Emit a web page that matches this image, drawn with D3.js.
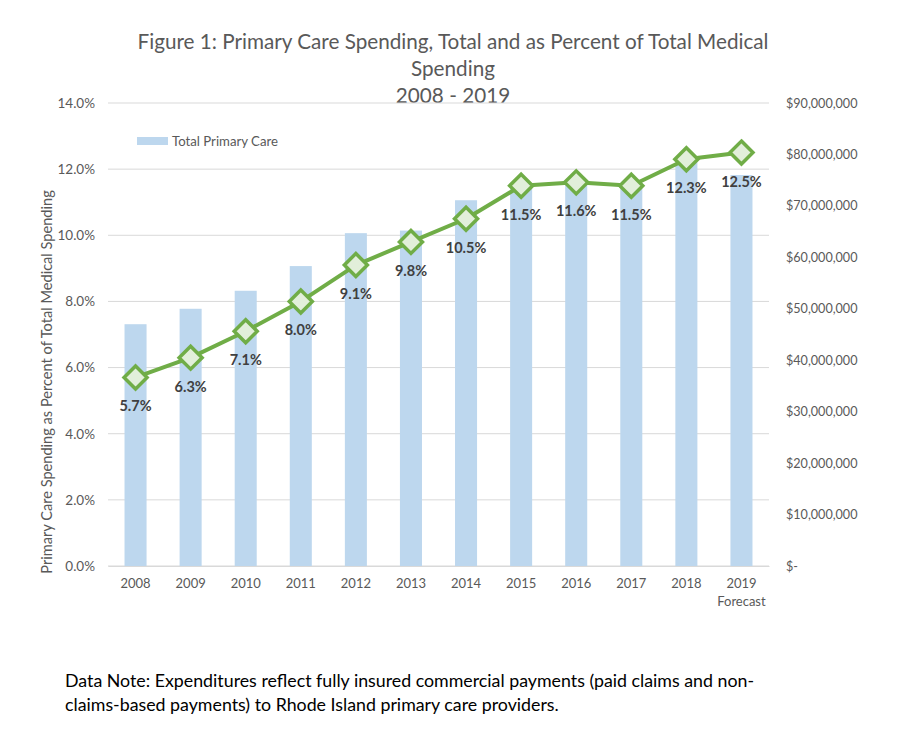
<!DOCTYPE html>
<html><head><meta charset="utf-8">
<script src="https://cdn.jsdelivr.net/npm/d3@7"></script>
<style>body{margin:0;background:#fff;} svg{display:block;}</style>
</head><body>
<svg id="c" width="900" height="734"></svg>
<script>
const years = ["2008","2009","2010","2011","2012","2013","2014","2015","2016","2017","2018","2019"];
const totalSpending = [47000000, 50000000, 53500000, 58300000, 64700000, 65200000, 71100000, 74000000, 74500000, 74000000, 78500000, 76000000];
const percentOfTotal = [5.7, 6.3, 7.1, 8.0, 9.1, 9.8, 10.5, 11.5, 11.6, 11.5, 12.3, 12.5];
const percentLabels = ["5.7%","6.3%","7.1%","8.0%","9.1%","9.8%","10.5%","11.5%","11.6%","11.5%","12.3%","12.5%"];
const leftTicks = [0,2,4,6,8,10,12,14];
const rightTicks = [0,10000000,20000000,30000000,40000000,50000000,60000000,70000000,80000000,90000000];
const titleLines = ["Figure 1: Primary Care Spending, Total and as Percent of Total Medical","Spending","2008 - 2019"];
const noteLines = ["Data Note: Expenditures reflect fully insured commercial payments (paid claims and non-","claims-based payments) to Rhode Island primary care providers."];

const svg = d3.select("#c");
const F = "Lato, 'Open Sans', sans-serif";
const L = 108, R = 769, T = 103, B = 566;

const x = d3.scaleBand().domain(years).range([L, R]).paddingInner(0.6).paddingOuter(0.3);
const yL = d3.scaleLinear().domain([0, 14]).range([B, T]);
const yR = d3.scaleLinear().domain([0, 90000000]).range([B, T]);

// title
svg.append("g").selectAll("text").data(titleLines).join("text")
  .attr("x", 453).attr("y", (d,i) => 49 + i*27)
  .attr("text-anchor","middle").attr("font-family",F).attr("font-size",20.7)
  .attr("fill","#595959").text(d => d);

// gridlines
svg.append("g").selectAll("line").data(leftTicks).join("line")
  .attr("x1", L).attr("x2", R).attr("y1", d => yL(d)).attr("y2", d => yL(d))
  .attr("stroke", "#d9d9d9").attr("stroke-width", 1);

// left axis
const gl = svg.append("g").attr("transform", `translate(${L},0)`)
  .call(d3.axisLeft(yL).tickValues(leftTicks).tickFormat(d => d.toFixed(1) + "%").tickSize(0).tickPadding(13));
gl.select(".domain").remove();
gl.selectAll("text").attr("font-family",F).attr("font-size",13.5).attr("fill","#595959");

// right axis
const fmt = d3.format(",");
const gr = svg.append("g").attr("transform", `translate(${R},0)`)
  .call(d3.axisRight(yR).tickValues(rightTicks).tickFormat(d => d === 0 ? "$-" : "$" + fmt(d)).tickSize(0).tickPadding(17));
gr.select(".domain").remove();
gr.selectAll("text").attr("font-family",F).attr("font-size",12.6).attr("fill","#595959");

// bars
svg.append("g").selectAll("rect").data(years).join("rect")
  .attr("x", d => x(d)).attr("width", x.bandwidth())
  .attr("y", (d,i) => yR(totalSpending[i])).attr("height", (d,i) => B - yR(totalSpending[i]))
  .attr("fill", "#bdd7ee");

// bottom axis
const gx = svg.append("g").attr("transform", `translate(0,${B})`)
  .call(d3.axisBottom(x).tickSize(0).tickPadding(13));
gx.select(".domain").attr("stroke","#d9d9d9");
gx.selectAll("text").attr("font-family",F).attr("font-size",13).attr("fill","#595959");
svg.append("text").attr("x", x("2019") + x.bandwidth()/2).attr("y", 606)
  .attr("text-anchor","middle").attr("font-family",F).attr("font-size",13).attr("fill","#595959").text("Forecast");

// line
const cx = d => x(d) + x.bandwidth()/2;
const line = d3.line().x((d,i) => cx(years[i])).y(d => yL(d));
svg.append("path").datum(percentOfTotal).attr("d", line)
  .attr("fill","none").attr("stroke","#70ad47").attr("stroke-width",4).attr("stroke-linejoin","round");

// markers
svg.append("g").selectAll("path").data(percentOfTotal).join("path")
  .attr("transform", (d,i) => `translate(${cx(years[i])},${yL(d)})`)
  .attr("d", "M0,-11.5L11.5,0L0,11.5L-11.5,0Z")
  .attr("fill","#e2efda").attr("stroke","#70ad47").attr("stroke-width",3.5);

// data labels
svg.append("g").selectAll("text").data(percentOfTotal).join("text")
  .attr("x", (d,i) => cx(years[i])).attr("y", d => yL(d) + 34)
  .attr("text-anchor","middle").attr("font-family",F).attr("font-size",14.5).attr("font-weight","bold")
  .attr("fill","#404040").text((d,i) => percentLabels[i]);

// legend
svg.append("rect").attr("x",137).attr("y",137).attr("width",31).attr("height",8).attr("fill","#bdd7ee");
svg.append("text").attr("x",172).attr("y",146).attr("font-family",F).attr("font-size",13.2).attr("fill","#595959").text("Total Primary Care");

// y axis title
svg.append("text").attr("transform","translate(52,382) rotate(-90)")
  .attr("text-anchor","middle").attr("font-family",F).attr("font-size",14.6).attr("fill","#595959")
  .text("Primary Care Spending as Percent of Total Medical Spending");

// note
svg.append("g").selectAll("text").data(noteLines).join("text")
  .attr("x", 65).attr("y", (d,i) => 687 + i*24)
  .attr("font-family",F).attr("font-size",17.8).attr("fill","#000").text(d => d);
</script>
</body></html>
